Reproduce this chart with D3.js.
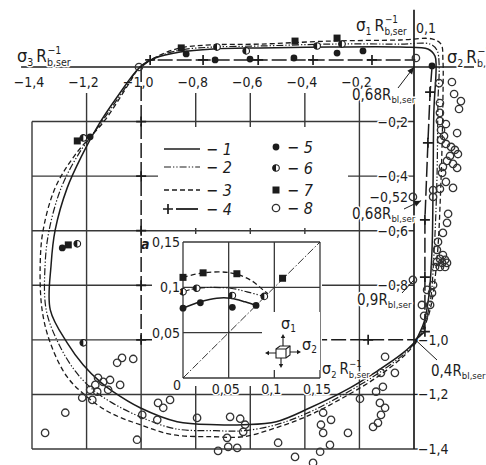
<!DOCTYPE html>
<html>
<head>
<meta charset="utf-8">
<script src="https://cdn.jsdelivr.net/npm/d3@7"></script>
<style>
  body { margin: 0; background: #fff; }
  svg { display: block; font-family: "Liberation Sans Narrow", "DejaVu Sans Condensed", "Arial Narrow", sans-serif; font-stretch: condensed; }
  .halo { paint-order: stroke; stroke: #fff; stroke-width: 3px; stroke-linejoin: round; }
</style>
</head>
<body>
<div id="container"></div>
<script>
/* CONSTANTS AND GLOBALS */
const width = 486, height = 465;
const ink = "#1c1c1c", gridInk = "#383838";

/* DATA */
// main grid: sigma3 / sigma2 horizontally, sigma1 vertically (units of R_b,ser)
const xTicks = [-1.4, -1.2, -1.0, -0.8, -0.6, -0.4, -0.2];
const xTickLabels = ["−1,4", "−1,2", "−1,0", "−0,8", "−0,6", "−0,4", "−0,2"];
const yTicksLeft = [-0.2, -0.4, -0.476, -0.6, -0.8];
const yTickLeftLabels = ["−0,2", "−0,4", "−0,52", "−0,6", "−0,8"];
const yTicksRight = [-1.0, -1.2, -1.4];
const yTickRightLabels = ["−1,0", "−1,2", "−1,4"];
const gridX = [-1.4, -1.2, -1.0, -0.8, -0.6, -0.4, -0.2];
const gridXTop = [-0.2, -0.095, -1.0, -0.095, -0.095, -0.095, -0.095];
const gridY = [-0.2, -0.4, -0.6, -0.8, -1.0, -1.2, -1.4];
const gridYEnd = [0, 0, 0, 0, -1.0, 0, 0];

// curve 1 (solid)
const curve1 = [[0.004,-1.007],[0.037,-0.934],[0.055,-0.835],[0.066,-0.670],[0.070,-0.414],[0.073,-0.158],
  [0.081,0.0],[0.077,0.040],[0.051,0.066],[-0.051,0.073],[-0.308,0.073],[-0.564,0.070],[-0.736,0.066],
  [-0.857,0.055],[-0.949,0.033],[-1.004,0.0],[-1.088,-0.110],[-1.161,-0.220],[-1.216,-0.322],[-1.271,-0.443],
  [-1.315,-0.597],[-1.330,-0.725],[-1.333,-0.890],[-1.271,-1.011],[-1.212,-1.092],[-1.150,-1.154],
  [-1.103,-1.190],[-1.004,-1.249],[-0.868,-1.300],[-0.722,-1.311],[-0.626,-1.311],[-0.505,-1.300],
  [-0.381,-1.249],[-0.260,-1.190],[-0.139,-1.117],[-0.040,-1.048],[0.004,-1.007]];
// curve 2 (dash-dot-dot)
const curve2 = [[0.004,-1.011],[0.033,-0.956],[0.059,-0.864],[0.073,-0.689],[0.084,-0.414],[0.088,-0.121],
  [0.092,0.011],[0.084,0.062],[0.059,0.084],[-0.051,0.084],[-0.308,0.084],[-0.564,0.077],[-0.740,0.073],
  [-0.857,0.062],[-0.941,0.037],[-1.004,0.0],[-1.066,-0.088],[-1.147,-0.205],[-1.231,-0.322],[-1.293,-0.443],
  [-1.337,-0.597],[-1.352,-0.725],[-1.348,-0.890],[-1.304,-1.011],[-1.242,-1.114],[-1.176,-1.183],
  [-1.106,-1.231],[-1.004,-1.282],[-0.875,-1.326],[-0.729,-1.333],[-0.626,-1.333],[-0.505,-1.311],
  [-0.381,-1.264],[-0.260,-1.201],[-0.139,-1.128],[-0.040,-1.055],[0.004,-1.011]];
// curve 3 (dashed)
const curve3 = [[0.004,-1.015],[0.029,-0.971],[0.059,-0.890],[0.084,-0.707],[0.099,-0.414],[0.106,-0.121],
  [0.106,0.026],[0.099,0.084],[0.066,0.103],[-0.051,0.099],[-0.308,0.095],[-0.564,0.084],[-0.747,0.081],
  [-0.857,0.070],[-0.938,0.040],[-1.004,0.0],[-1.048,-0.066],[-1.132,-0.194],[-1.242,-0.322],[-1.315,-0.443],
  [-1.359,-0.597],[-1.370,-0.725],[-1.363,-0.890],[-1.333,-1.011],[-1.271,-1.136],[-1.198,-1.209],
  [-1.114,-1.267],[-1.004,-1.311],[-0.883,-1.348],[-0.736,-1.355],[-0.626,-1.355],[-0.505,-1.322],
  [-0.381,-1.275],[-0.260,-1.212],[-0.139,-1.139],[-0.040,-1.062],[0.004,-1.015]];

// series 4 (long dash with crosses)
const line4Top = [[-1.0,0.0],[-0.967,0.026],[0.005,0.026]];
const line4Right = [[0.066,0.0],[0.059,-0.092],[0.051,-0.278],[0.040,-0.56],[0.040,-0.97],[0.004,-1.0]];
const line4Left = [[-1.0,0.0],[-1.0,-1.0]];
const line4Bottom = [[-1.0,-1.0],[0.0,-1.0]];
const plus4 = [[-0.967,0.026],[-0.773,0.026],[-0.571,0.026],[-0.370,0.026],[-0.154,0.026],
  [0.059,-0.092],[0.051,-0.278],[0.040,-0.56],[0.040,-0.77],[0.040,-0.97],
  [-1.0,-0.2],[-1.0,-0.4],[-1.0,-0.6],[-1.0,-0.8],[-1.0,-1.0],[-0.168,-1.0]];

// experimental points
const pts5 = [[-0.729,0.026],[-0.601,0.029],[-0.440,0.033],[-0.282,0.051],[-0.187,0.059],[0.066,0.004],
  [-0.835,0.048],[-1.187,-0.256],[-1.289,-0.663]];
const pts6 = [[-0.722,0.073],[-0.615,0.059],[-0.355,0.077],[-0.264,0.084],[-1.212,-0.260],[-1.234,-0.648],
  [-1.212,-1.011]];
const pts7 = [[-0.853,0.070],[-0.436,0.095],[-0.282,0.106],[-1.234,-0.271],[-1.267,-0.652]];
const pts8 = [[0.007,0.033],[-0.004,-0.476],[0.070,-0.476],[-0.004,-0.780],[-1.008,0.0],
  [0.092,-0.059],[0.139,-0.055],[0.147,-0.099],[0.172,-0.125],[0.165,-0.154],[0.095,-0.132],[0.095,-0.168],
  [0.095,-0.198],[0.117,-0.209],[0.099,-0.231],[0.110,-0.253],[0.158,-0.242],[0.099,-0.267],[0.117,-0.282],
  [0.136,-0.293],[0.150,-0.304],[0.161,-0.319],[0.132,-0.326],[0.121,-0.344],[0.143,-0.355],[0.106,-0.366],
  [0.158,-0.370],[0.103,-0.388],[0.117,-0.421],[0.143,-0.443],[0.095,-0.447],[0.070,-0.451],
  [0.125,-0.538],[0.121,-0.571],[0.106,-0.608],[0.088,-0.641],[0.084,-0.670],[0.106,-0.689],[0.095,-0.703],
  [0.114,-0.707],[0.084,-0.714],[0.103,-0.718],[0.121,-0.718],[0.077,-0.733],[0.095,-0.733],[0.114,-0.733],
  [0.070,-0.799],[0.048,-0.817],[0.066,-0.828],[0.029,-0.872],[0.059,-0.872],[0.037,-0.912],
  [-1.088,-1.084],[-1.070,-1.066],[-1.029,-1.070],[-1.158,-1.139],[-1.139,-1.154],[-1.114,-1.147],
  [-1.168,-1.165],[-1.077,-1.165],[-1.187,-1.183],[-1.161,-1.190],[-1.121,-1.183],[-1.216,-1.212],
  [-1.179,-1.220],[-1.278,-1.267],[-1.352,-1.341],[-0.938,-1.231],[-0.919,-1.249],[-0.894,-1.220],
  [-0.996,-1.275],[-0.941,-1.293],[-1.015,-1.366],[-0.795,-1.286],[-0.674,-1.282],[-0.637,-1.289],
  [-0.685,-1.359],[-0.718,-1.407],[-0.681,-1.392],[-0.648,-1.396],[-0.619,-1.311],[-0.626,-1.337],
  [-0.106,-1.062],[-0.121,-1.121],[-0.070,-1.121],[-0.114,-1.172],[-0.139,-1.190],[-0.198,-1.216],
  [-0.125,-1.231],[-0.106,-1.249],[-0.121,-1.275],[-0.132,-1.304],[-0.150,-1.319],[-0.333,-1.267],
  [-0.304,-1.293],[-0.341,-1.311],[-0.333,-1.341],[-0.242,-1.341],[-0.308,-1.385],[-0.344,-1.410],
  [-0.498,-1.377],[-0.436,-1.429],[-0.370,-1.451]];

// inset "a" (biaxial tension corner)
const insetTicks = [0.05, 0.1, 0.15];
const insetTickLabels = ["0,05", "0,1", "0,15"];
const insetCurve1 = [[0,0.077],[0.019,0.084],[0.037,0.088],[0.052,0.088],[0.068,0.084],[0.080,0.080]];
const insetCurve2 = [[0,0.095],[0.015,0.099],[0.052,0.099],[0.070,0.095],[0.089,0.090]];
const insetCurve3 = [[0,0.111],[0.022,0.116],[0.052,0.116],[0.074,0.108],[0.088,0.097],[0.093,0.093]];
const insetDiag = [[0,0],[0.15,0.15]];
const inset5 = [[0,0.077],[0.019,0.083],[0.054,0.078],[0.080,0.080]];
const inset6 = [[0,0.095],[0.015,0.099],[0.054,0.091],[0.089,0.090]];
const inset7 = [[0,0.111],[0.022,0.116],[0.059,0.115],[0.109,0.110]];

// legend
const legendLines = ["1", "2", "3", "4"];
const legendMarks = ["5", "6", "7", "8"];

/* SCALES */
const x = d3.scaleLinear().domain([-1.4, 0]).range([32, 414]);
const y = d3.scaleLinear().domain([0, -1.4]).range([67, 449]);
const ix = d3.scaleLinear().domain([0, 0.15]).range([183, 320]);
const iy = d3.scaleLinear().domain([0, 0.15]).range([378, 242]);

const styles = {
  "1": { dash: null, w: 1.5 },
  "2": { dash: "7,2,1.3,2,1.3,2", w: 1.2 },
  "3": { dash: "5,3", w: 1.3 },
  "4": { dash: "15,4", w: 1.5 }
};

/* SVG */
const svg = d3.select("#container").append("svg")
  .attr("width", width).attr("height", height);
svg.append("rect").attr("width", width).attr("height", height).attr("fill", "#fff");

// GRID
svg.append("g").selectAll("line").data(gridX).join("line")
  .attr("x1", d => x(d)).attr("x2", d => x(d))
  .attr("y1", (d, i) => y(gridXTop[i])).attr("y2", y(-1.4))
  .attr("stroke", gridInk).attr("stroke-width", 1.4);
svg.append("g").selectAll("line").data(gridY).join("line")
  .attr("x1", x(-1.4)).attr("x2", (d, i) => x(gridYEnd[i]))
  .attr("y1", d => y(d)).attr("y2", d => y(d))
  .attr("stroke", gridInk).attr("stroke-width", 1.4);

// AXES
svg.append("line").attr("x1", x(-1.44)).attr("x2", x(0.22)).attr("y1", y(0)).attr("y2", y(0))
  .attr("stroke", ink).attr("stroke-width", 1.7);
svg.append("line").attr("x1", x(0)).attr("x2", x(0)).attr("y1", y(0.21)).attr("y2", y(-1.4))
  .attr("stroke", ink).attr("stroke-width", 1.7);
svg.append("g").selectAll("line").data(yTicksRight).join("line")
  .attr("x1", x(0)).attr("x2", x(0) + 5).attr("y1", d => y(d)).attr("y2", d => y(d))
  .attr("stroke", ink).attr("stroke-width", 1.3);

const line = d3.line().x(d => x(d[0])).y(d => y(d[1]));
const smooth = d3.line().x(d => x(d[0])).y(d => y(d[1])).curve(d3.curveCatmullRom.alpha(0.5));

// SERIES 4
[line4Top, line4Right, line4Left, line4Bottom].forEach(seg => {
  svg.append("path").attr("d", line(seg)).attr("fill", "none")
    .attr("stroke", ink).attr("stroke-width", styles["4"].w).attr("stroke-dasharray", styles["4"].dash);
});

// WHITE PANELS (legend + inset)
svg.append("rect").attr("x", 158).attr("y", 127).attr("width", 190).attr("height", 101).attr("fill", "#fff");
svg.append("rect").attr("x", 152).attr("y", 234).attr("width", 170).attr("height", 152).attr("fill", "#fff");

// INSET
const ins = svg.append("g");
ins.append("g").selectAll("line").data(insetTicks).join("line")
  .attr("x1", d => ix(d)).attr("x2", d => ix(d)).attr("y1", iy(0)).attr("y2", iy(0.15))
  .attr("stroke", gridInk).attr("stroke-width", 1.3);
ins.append("g").selectAll("line").data(insetTicks).join("line")
  .attr("x1", ix(0)).attr("x2", ix(0.15)).attr("y1", d => iy(d)).attr("y2", d => iy(d))
  .attr("stroke", gridInk).attr("stroke-width", 1.3);
ins.append("line").attr("x1", ix(0)).attr("x2", ix(0)).attr("y1", iy(0)).attr("y2", iy(0.15))
  .attr("stroke", gridInk).attr("stroke-width", 1.3);
ins.append("line").attr("x1", ix(0)).attr("x2", ix(0.15)).attr("y1", iy(0)).attr("y2", iy(0))
  .attr("stroke", gridInk).attr("stroke-width", 1.3);
// white patch behind the stress cube
ins.append("rect").attr("x", 262).attr("y", 312).attr("width", 58).attr("height", 58).attr("fill", "#fff");

const iline = d3.line().x(d => ix(d[0])).y(d => iy(d[1]));
const ismooth = d3.line().x(d => ix(d[0])).y(d => iy(d[1])).curve(d3.curveCatmullRom.alpha(0.5));
ins.append("path").attr("d", iline(insetDiag)).attr("fill", "none").attr("stroke", ink)
  .attr("stroke-width", 0.9).attr("stroke-dasharray", "8,2,1.5,2");
[[insetCurve1, "1"], [insetCurve2, "2"], [insetCurve3, "3"]].forEach(([c, k]) => {
  ins.append("path").attr("d", ismooth(c)).attr("fill", "none").attr("stroke", ink)
    .attr("stroke-width", styles[k].w).attr("stroke-dasharray", styles[k].dash);
});

// stress cube icon
const cube = ins.append("g").attr("transform", "translate(276,346)").attr("stroke", ink).attr("fill", "#fff").attr("stroke-width", 1.1);
cube.append("path").attr("d", "M0,3 L4,0 L14,0 L14,9 L10,12 L0,12 Z");
cube.append("path").attr("d", "M0,3 L10,3 L10,12 M10,3 L14,0").attr("fill", "none");
cube.append("path").attr("d", "M7,0 V-10 M14,6 H23 M0,7 H-9 M5,12 V20").attr("fill", "none");
cube.append("path").attr("d", "M7,-12 l-2.2,4 h4.4 Z M25,6 l-4,-2.2 v4.4 Z M-11,7 l4,-2.2 v4.4 Z M5,22 l-2.2,-4 h4.4 Z")
  .attr("fill", ink).attr("stroke", "none");

// CURVES
[[curve1, "1"], [curve2, "2"], [curve3, "3"]].forEach(([c, k]) => {
  svg.append("path").attr("d", smooth(c)).attr("fill", "none").attr("stroke", ink)
    .attr("stroke-width", styles[k].w).attr("stroke-dasharray", styles[k].dash);
});

// MARKERS
function drawMarkers(g, data, kind, sx, sy) {
  const sel = g.append("g").selectAll("g").data(data).join("g")
    .attr("transform", d => `translate(${sx(d[0])},${sy(d[1])})`);
  markerShape(sel, kind);
}
function markerShape(sel, kind) {
  if (kind === "5") {
    sel.append("circle").attr("r", 3.4).attr("fill", ink);
  } else if (kind === "6") {
    sel.append("circle").attr("r", 3.3).attr("fill", "#fff").attr("stroke", ink).attr("stroke-width", 1.1);
    sel.append("path").attr("d", "M0,-3.3 A3.3,3.3 0 0 0 0,3.3 Z").attr("fill", ink);
  } else if (kind === "7") {
    sel.append("rect").attr("x", -3.5).attr("y", -3.5).attr("width", 7).attr("height", 7).attr("fill", ink);
  } else if (kind === "8") {
    sel.append("circle").attr("r", 3.7).attr("fill", "none").attr("stroke", "#333").attr("stroke-width", 1.3);
  } else if (kind === "4") {
    sel.append("path").attr("d", "M-5,0H5M0,-5V5").attr("stroke", ink).attr("stroke-width", 1.7);
  }
}
drawMarkers(svg, plus4, "4", x, y);
drawMarkers(svg, pts8, "8", x, y);
drawMarkers(svg, pts5, "5", x, y);
drawMarkers(svg, pts6, "6", x, y);
drawMarkers(svg, pts7, "7", x, y);
drawMarkers(ins, inset5, "5", ix, iy);
drawMarkers(ins, inset6, "6", ix, iy);
drawMarkers(ins, inset7, "7", ix, iy);

// TICK LABELS
svg.append("g").selectAll("text").data(xTicks).join("text")
  .attr("x", d => x(d) - 3).attr("y", 87).attr("text-anchor", "middle")
  .attr("font-size", 14).attr("fill", ink).text((d, i) => xTickLabels[i]);
svg.append("g").selectAll("text").data(yTicksLeft).join("text")
  .attr("class", "halo").attr("x", x(0) - 6).attr("y", d => y(d) + 5).attr("text-anchor", "end")
  .attr("font-size", 14).attr("fill", ink).text((d, i) => yTickLeftLabels[i]);
svg.append("g").selectAll("text").data(yTicksRight).join("text")
  .attr("class", "halo").attr("x", x(0) + 4).attr("y", d => y(d) + 5)
  .attr("font-size", 14).attr("fill", ink).text((d, i) => yTickRightLabels[i]);
svg.append("text").attr("x", x(0) + 2).attr("y", 33).attr("font-size", 14).attr("fill", ink).text("0,1");

// inset tick labels
ins.append("g").selectAll("text").data(insetTicks).join("text")
  .attr("class", "halo").attr("x", ix(0) - 3).attr("y", d => iy(d) + 5).attr("text-anchor", "end")
  .attr("font-size", 14).attr("fill", ink).text((d, i) => insetTickLabels[i]);
ins.append("g").selectAll("text").data(insetTicks).join("text")
  .attr("class", "halo").attr("x", d => ix(d) - 3).attr("y", iy(0) + 16).attr("text-anchor", "middle")
  .attr("font-size", 14).attr("fill", ink).text((d, i) => insetTickLabels[i]);
ins.append("text").attr("x", ix(0) - 2).attr("y", iy(0) + 12).attr("text-anchor", "end")
  .attr("font-size", 14).attr("fill", ink).text("0");
ins.append("text").attr("x", 141).attr("y", 249).attr("font-size", 14).attr("font-weight", "bold")
  .attr("font-style", "italic").attr("fill", ink).text("a");
ins.append("text").attr("x", 281).attr("y", 329).attr("font-size", 16).attr("fill", ink).text("σ")
  .append("tspan").attr("font-size", 10).attr("dy", 3).text("1");
ins.append("text").attr("x", 302).attr("y", 350).attr("font-size", 16).attr("fill", ink).text("σ")
  .append("tspan").attr("font-size", 10).attr("dy", 3).text("2");

// AXIS TITLES  sigma_i R_b,ser^-1
function axisTitle(px, py, idx, size) {
  const t = svg.append("text").attr("class", "halo").attr("x", px).attr("y", py).attr("fill", ink);
  t.append("tspan").attr("font-size", size + 1).text("σ");
  t.append("tspan").attr("font-size", size * 0.62).attr("dy", 4).text(idx);
  t.append("tspan").attr("font-size", size).attr("dy", -4).attr("dx", 3).text("R");
  t.append("tspan").attr("font-size", size * 0.62).attr("dy", 4).text("b,ser");
  const p = t.node().getStartPositionOfChar(3);
  svg.append("text").attr("x", p.x + 0.5).attr("y", py - size * 0.5).attr("font-size", size * 0.62)
    .attr("fill", ink).text("−1");
}
axisTitle(17, 62, "3", 17);
axisTitle(356, 31, "1", 16);
axisTitle(447, 63, "2", 17);
axisTitle(322, 374, "2", 15);

// ANNOTATIONS
function annot(px, py, main, target, from, arrow) {
  const t = svg.append("text").attr("class", "halo").attr("x", px).attr("y", py).attr("fill", ink);
  t.append("tspan").attr("font-size", 15).text(main);
  t.append("tspan").attr("font-size", 9.5).attr("dy", 3).text("bl,ser");
  svg.append("line").attr("x1", from[0]).attr("y1", from[1]).attr("x2", x(target[0])).attr("y2", y(target[1]))
    .attr("stroke", ink).attr("stroke-width", 1);
  if (arrow) {
    const tx = x(target[0]), ty = y(target[1]);
    const a = Math.atan2(ty - from[1], tx - from[0]);
    const L = 7, W = 3;
    const p1 = [tx - L * Math.cos(a) + W * Math.sin(a), ty - L * Math.sin(a) - W * Math.cos(a)];
    const p2 = [tx - L * Math.cos(a) - W * Math.sin(a), ty - L * Math.sin(a) + W * Math.cos(a)];
    svg.append("path").attr("d", `M${tx},${ty}L${p1}L${p2}Z`).attr("fill", ink);
  }
}
annot(352, 100, "0,68R", [0, 0], [398, 88], true);
annot(352, 219, "0,68R", [0.026, -0.49], [404, 209], true);
annot(357, 305, "0,9R", [0, -0.78], [402, 293], false);
annot(431, 376, "0,4R", [0.005, -1.0], [437, 360], false);

// LEGEND
const lg = svg.append("g");
const lineRowsY = [149, 167, 190, 209];
legendLines.forEach((k, i) => {
  const yy = lineRowsY[i];
  if (k === "4") {
    markerShape(lg.append("g").attr("transform", `translate(168,${yy})`), "4");
    lg.append("line").attr("x1", 176).attr("x2", 198).attr("y1", yy).attr("y2", yy)
      .attr("stroke", ink).attr("stroke-width", 1.8);
  } else {
    lg.append("line").attr("x1", 164).attr("x2", 200).attr("y1", yy).attr("y2", yy)
      .attr("stroke", ink).attr("stroke-width", styles[k].w).attr("stroke-dasharray", styles[k].dash);
  }
  lg.append("text").attr("x", 206).attr("y", yy + 6).attr("font-size", 16).attr("font-style", "italic")
    .attr("fill", ink).text("− " + k);
});
const markRowsY = [147, 168, 190, 208];
legendMarks.forEach((k, i) => {
  const yy = markRowsY[i];
  markerShape(lg.append("g").attr("transform", `translate(276,${yy})`), k);
  lg.append("text").attr("x", 287).attr("y", yy + 6).attr("font-size", 16).attr("font-style", "italic")
    .attr("fill", ink).text("− " + k);
});
</script>
</body>
</html>
